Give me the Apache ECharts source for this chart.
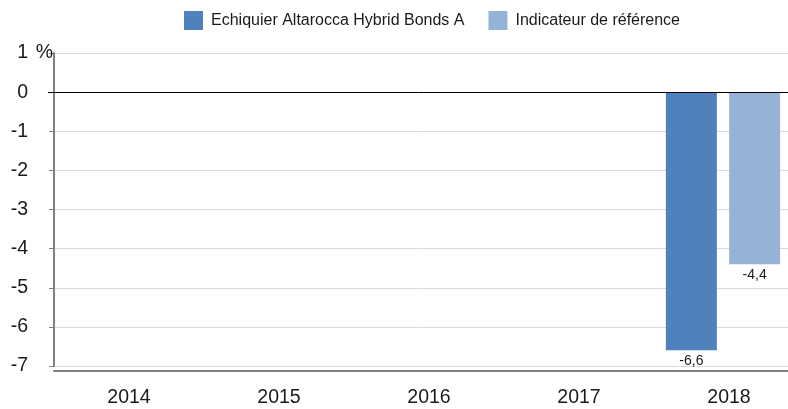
<!DOCTYPE html>
<html>
<head>
<meta charset="utf-8">
<script src="https://cdn.jsdelivr.net/npm/echarts@6/dist/echarts.min.js"></script>
<style>
html,body{margin:0;padding:0;background:#fff;}
#chart{width:788px;height:409px;}
</style>
</head>
<body>
<div id="chart"></div>
<script>
const categories = ['2014', '2015', '2016', '2017', '2018'];
const fundName = 'Echiquier Altarocca Hybrid Bonds A';
const benchName = 'Indicateur de référence';
const fundValues = [null, null, null, null, -6.6];
const benchValues = [null, null, null, null, -4.4];
const yMin = -7, yMax = 1, yStep = 1;

const FONT = "'Liberation Sans', Arial, sans-serif";
const fmt = v => v.toFixed(1).replace('.', ',');

const chart = echarts.init(document.getElementById('chart'), null, {renderer: 'canvas'});
chart.setOption({
  animation: false,
  textStyle: {fontFamily: FONT},
  legend: {
    left: 184, top: 11, padding: 0,
    itemWidth: 19, itemHeight: 19, itemGap: 24,
    icon: 'rect',
    data: [fundName, benchName],
    textStyle: {fontFamily: FONT, fontSize: 16, color: '#1a1a1a', padding: [0, 0, 0, 3]}
  },
  grid: [
    {left: 54, right: -16, top: 53, bottom: 43, outerBoundsMode: 'none', containLabel: false},
    {left: 48, right: -10, top: 53, bottom: 43, outerBoundsMode: 'none', containLabel: false}
  ],
  xAxis: [
    {
      gridIndex: 0, type: 'category', data: categories, offset: 5,
      axisLine: {onZero: false, lineStyle: {color: '#808080', width: 2}},
      axisTick: {alignWithLabel: true, length: 5, lineStyle: {color: '#808080'}},
      axisLabel: {margin: 17, fontSize: 19.5, color: '#1a1a1a', fontFamily: FONT}
    },
    {gridIndex: 1, type: 'category', data: categories, show: false}
  ],
  yAxis: [
    {
      gridIndex: 0, type: 'value', min: yMin, max: yMax, interval: yStep,
      axisLine: {show: true, lineStyle: {color: '#808080', width: 2}},
      axisTick: {show: true, length: 5, lineStyle: {color: '#808080'}},
      splitLine: {lineStyle: {color: '#d9d9d9', width: 1}},
      axisLabel: {
        margin: 1, fontSize: 19.5, color: '#1a1a1a', fontFamily: FONT,
        formatter: v => v === yMax ? '{n|' + v + '}{p|%}' : '{n|' + v + '}{h|%}',
        rich: {
          n: {fontSize: 19.5, color: '#1a1a1a', fontFamily: FONT},
          p: {fontSize: 19.5, color: '#1a1a1a', fontFamily: FONT, width: 25, align: 'right'},
          h: {fontSize: 19.5, color: 'rgba(0,0,0,0)', fontFamily: FONT, width: 25, align: 'right'}
        }
      }
    },
    {gridIndex: 1, type: 'value', min: yMin, max: yMax, interval: yStep, show: false, splitLine: {show: false}}
  ],
  series: [
    {
      name: fundName, type: 'bar', xAxisIndex: 1, yAxisIndex: 1,
      data: fundValues, barWidth: 51, barGap: '24%',
      itemStyle: {color: '#4f81bd'},
      label: {show: true, position: 'bottom', distance: 4, fontSize: 14, color: '#1a1a1a', fontFamily: FONT,
        formatter: p => fmt(p.value)},
      markLine: {
        silent: true, symbol: 'none', label: {show: false},
        lineStyle: {color: '#000', width: 1, type: 'solid'},
        data: [{yAxis: 0}]
      }
    },
    {
      name: benchName, type: 'bar', xAxisIndex: 1, yAxisIndex: 1,
      data: benchValues, barWidth: 51, barGap: '24%',
      itemStyle: {color: '#95b3d7'},
      label: {show: true, position: 'bottom', distance: 4, fontSize: 14, color: '#1a1a1a', fontFamily: FONT,
        formatter: p => fmt(p.value)}
    }
  ]
});
</script>
</body>
</html>
